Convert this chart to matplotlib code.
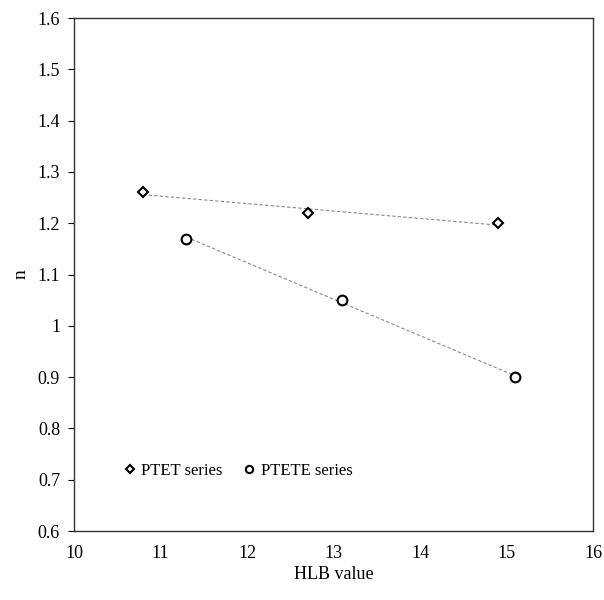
import matplotlib
matplotlib.use('Agg')
import matplotlib.pyplot as plt
from matplotlib.ticker import FuncFormatter
import numpy as np

plt.rcParams['font.family'] = ['Liberation Serif', 'DejaVu Serif']

# values
ptet_hlb = [10.8, 12.7, 14.9]
ptet_n = [1.26, 1.22, 1.20]
ptete_hlb = [11.3, 13.1, 15.1]
ptete_n = [1.17, 1.05, 0.90]

fig = plt.figure(figsize=(6.04, 6.0), dpi=100)
ax = fig.add_axes([0.1225, 0.115, 0.8595, 0.855])

# linear trend lines over each series' range
for xs, ys in [(ptet_hlb, ptet_n), (ptete_hlb, ptete_n)]:
    k, b = np.polyfit(xs, ys, 1)
    xx = np.array([min(xs), max(xs)])
    ax.plot(xx, k * xx + b, color='#888888', lw=0.8, ls=(0, (3, 2)), zorder=1)

ax.plot(ptet_hlb, ptet_n, ls='none', marker='D', ms=5.5, mfc='white',
        mec='black', mew=1.5, label='PTET series', zorder=3)
ax.plot(ptete_hlb, ptete_n, ls='none', marker='o', ms=7, mfc='white',
        mec='black', mew=1.5, label='PTETE series', zorder=3)

ax.set_xlim(10, 16)
ax.set_ylim(0.6, 1.6)
ax.set_xticks(np.arange(10, 17, 1))
ax.set_yticks(np.arange(0.6, 1.61, 0.1))
ax.yaxis.set_major_formatter(FuncFormatter(lambda v, p: '%g' % round(v, 1)))
ax.tick_params(axis='x', length=0, pad=10, labelsize=13)
ax.tick_params(axis='y', length=4, direction='out', pad=6, labelsize=13)

ax.set_xlabel('HLB value', fontsize=13, labelpad=3)
ax.set_ylabel('n', fontsize=14, labelpad=6)

for s in ax.spines.values():
    s.set_linewidth(1.0)
    s.set_color('#333333')

ax.legend(loc='lower left', bbox_to_anchor=(0.062, 0.072), ncol=2, frameon=False,
          fontsize=12, handletextpad=0.2, columnspacing=1.1,
          handlelength=1.0, markerscale=0.75)

plt.savefig('out.png', dpi=100)
